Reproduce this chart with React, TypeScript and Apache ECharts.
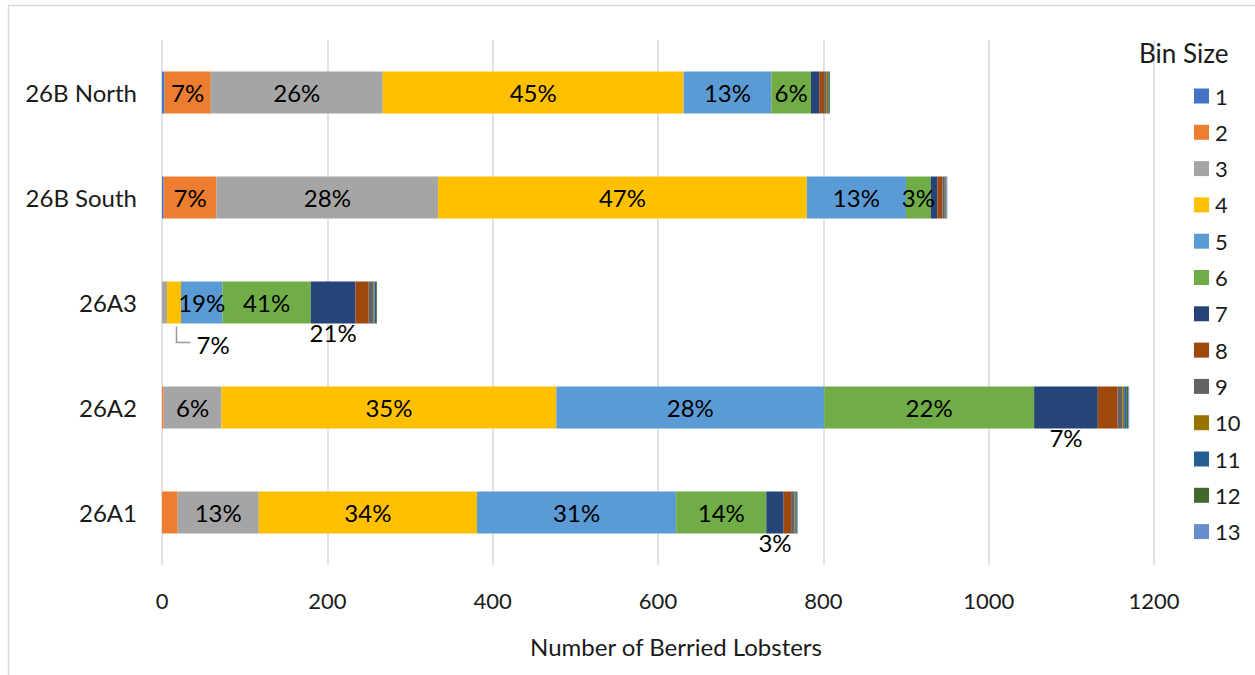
import React, { useEffect, useRef } from "react";
import * as echarts from "echarts";

const CATEGORIES = ["26A1", "26A2", "26A3", "26B South", "26B North"];
const BIN_NAMES = ["1", "2", "3", "4", "5", "6", "7", "8", "9", "10", "11", "12", "13"];
const BIN_COLORS = ["#4472C4", "#ED7D31", "#A5A5A5", "#FFC000", "#5B9BD5", "#70AD47", "#264478", "#9E480E", "#636363", "#997300", "#255E91", "#43682B", "#698ED0"];

// values per bin, in CATEGORIES order
const BIN_1 = [0, 0, 0, 2, 3];
const BIN_2 = [19, 2, 0, 64, 56];
const BIN_3 = [98, 70, 6, 268, 208];
const BIN_4 = [264, 405, 17, 446, 364];
const BIN_5 = [241, 324, 50, 120, 106];
const BIN_6 = [109, 254, 107, 30, 48];
const BIN_7 = [21, 77, 54, 8, 10];
const BIN_8 = [9, 24, 16, 6, 6];
const BIN_9 = [4, 6, 6, 3, 3];
const BIN_10 = [1, 2, 1, 1, 2];
const BIN_11 = [1, 3, 2, 1, 1];
const BIN_12 = [1, 2, 1, 0, 1];
const BIN_13 = [1, 1, 0, 1, 0];
const BINS = [BIN_1, BIN_2, BIN_3, BIN_4, BIN_5, BIN_6, BIN_7, BIN_8, BIN_9, BIN_10, BIN_11, BIN_12, BIN_13];

// which segments carry a percentage label
const INSIDE_LABELS: Record<string, string[]> = {
  "26A1": ["3", "4", "5", "6"],
  "26A2": ["3", "4", "5", "6"],
  "26A3": ["5", "6"],
  "26B South": ["2", "3", "4", "5", "6"],
  "26B North": ["2", "3", "4", "5", "6"],
};
const BELOW_LABELS: Record<string, string[]> = {
  "26A1": ["7"],
  "26A2": ["7"],
  "26A3": ["7"],
};
const CALLOUT_CATEGORY = "26A3";
const CALLOUT_BIN = "4";

const FONT = "Lato, 'Noto Sans', sans-serif";
const TEXT = "#1a1a1a";
const BAR_WIDTH = 42;

export default function App() {
  const ref = useRef<HTMLDivElement>(null);

  useEffect(() => {
    const chart = echarts.init(ref.current!, null, { renderer: "svg" });
    const totals = CATEGORIES.map((_, ci) => BINS.reduce((s, b) => s + b[ci], 0));
    const calloutCi = CATEGORIES.indexOf(CALLOUT_CATEGORY);
    const calloutBi = BIN_NAMES.indexOf(CALLOUT_BIN);

    const series = BIN_NAMES.map((name, bi) => ({
      name,
      type: "bar",
      stack: "total",
      barWidth: BAR_WIDTH,
      itemStyle: { color: BIN_COLORS[bi] },
      label: {
        show: false,
        fontFamily: FONT,
        fontSize: 24,
        lineHeight: 24,
        color: "#000",
        formatter: (p: any) => Math.round((p.value / totals[p.dataIndex]) * 100) + "%",
      },
      labelLayout:
        bi === calloutBi
          ? (p: any) => {
              if (p.dataIndex !== calloutCi) return {};
              const r = p.rect;
              const lx = r.x + r.width / 2 + 2.5;
              const by = r.y + r.height;
              return { x: lx + 20, y: by + 21, align: "left", verticalAlign: "middle" };
            }
          : undefined,
      data: BINS[bi].map((v, ci) => {
        const cat = CATEGORIES[ci];
        const inside = (INSIDE_LABELS[cat] || []).includes(name);
        const below = (BELOW_LABELS[cat] || []).includes(name);
        const item: any = { value: v };
        if (inside) item.label = { show: true, position: "inside" };
        if (below) item.label = { show: true, position: "bottom", distance: -3 };
        if (ci === calloutCi && bi === calloutBi) item.label = { show: true, position: "bottom" };
        return item;
      }),
    }));

    chart.setOption({
      animation: false,
      backgroundColor: "#fff",
      textStyle: { fontFamily: FONT },
      title: {
        text: "Bin Size",
        left: 1139,
        top: 40,
        padding: 0,
        textStyle: { fontFamily: FONT, fontSize: 26, fontWeight: "normal", color: TEXT, lineHeight: 26 },
      },
      legend: {
        orient: "vertical",
        left: 1194,
        top: 85,
        padding: 0,
        itemWidth: 15,
        itemHeight: 15,
        itemGap: 14.3,
        icon: "rect",
        data: BIN_NAMES,
        textStyle: { fontFamily: FONT, fontSize: 22, lineHeight: 22, color: TEXT, padding: [0, 0, 0, 1] },
      },
      grid: { left: 162, right: 101, top: 40, bottom: 110, containLabel: false },
      xAxis: {
        type: "value",
        min: 0,
        max: 1200,
        interval: 200,
        axisLine: { show: false },
        axisTick: { show: false },
        splitLine: { show: true, lineStyle: { color: "#d9d9d9", width: 1.5 } },
        axisLabel: { fontFamily: FONT, fontSize: 22, color: TEXT, margin: 24, formatter: (v: number) => String(v) },
        name: "Number of Berried Lobsters",
        nameLocation: "middle",
        nameGap: 69,
        nameTextStyle: { fontFamily: FONT, fontSize: 24, color: TEXT, padding: [0, 0, 0, 36] },
      },
      yAxis: {
        type: "category",
        data: CATEGORIES,
        axisLine: { show: false },
        axisTick: { show: false },
        axisLabel: { fontFamily: FONT, fontSize: 24, color: TEXT, margin: 25 },
      },
      series,
    });

    // leader line for the callout label, positioned from the axis scales
    const before = BINS.slice(0, calloutBi).reduce((s, b) => s + b[calloutCi], 0);
    const mid = before + BINS[calloutBi][calloutCi] / 2;
    const pt = chart.convertToPixel({ xAxisIndex: 0, yAxisIndex: 0 }, [mid, calloutCi]) as number[];
    const lx = pt[0] + 2.5;
    const by = pt[1] + BAR_WIDTH / 2;
    chart.setOption({
      graphic: [
        {
          type: "rect",
          silent: true,
          z: -10,
          shape: { x: 8.5, y: 5.5, width: 1300, height: 720 },
          style: { fill: "none", stroke: "#d9d9d9", lineWidth: 1.5 },
        },
        {
          type: "polyline",
          silent: true,
          z: 100,
          shape: { points: [[lx, by + 3], [lx, by + 19], [lx + 14, by + 19]] },
          style: { fill: "none", stroke: "#999999", lineWidth: 1.5 },
        },
      ],
    });
    return () => chart.dispose();
  }, []);

  return (
    <div
      ref={ref}
      style={{ position: "fixed", left: 0, top: 0, width: 1255, height: 675, background: "#fff" }}
    />
  );
}
